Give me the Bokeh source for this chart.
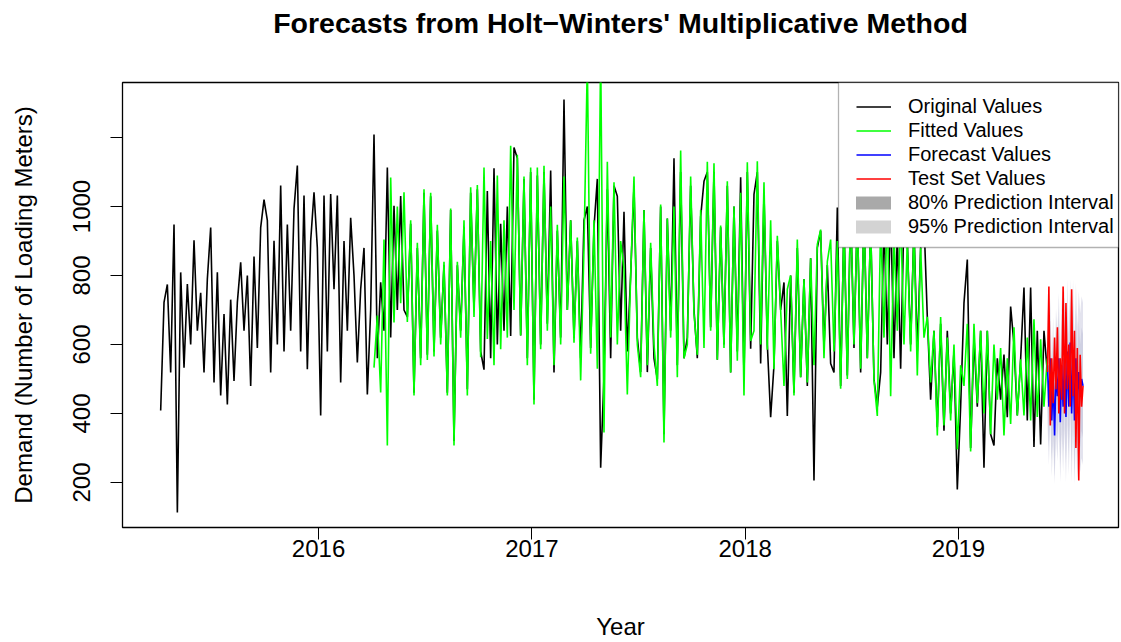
import numpy as np
from bokeh.plotting import figure
from bokeh.models import Range1d, FixedTicker, Legend, LegendItem, BoxAnnotation, Title
from bokeh.embed import file_html
from bokeh.resources import INLINE

# ---------------- data ----------------
series_start = 2015.26      # time of first observation (years)
series_freq = 64            # observations per year in this transcription
fitted_offset = 64          # fitted values start one season after the data
test_start = 2019.417
test_freq = 150

original_values = [
    409, 722, 774, 519, 948, 113, 809, 533, 775, 600,
    902, 640, 750, 519, 790, 939, 490, 809, 452, 688,
    426, 730, 494, 722, 838, 640, 800, 480, 855, 590,
    939, 1020, 960, 519, 901, 600, 1061, 580, 948, 640,
    993, 1119, 580, 1032, 528, 900, 1041, 880, 394, 1032,
    580, 1036, 760, 1032, 490, 900, 640, 967, 800, 548,
    760, 880, 455, 700,
    1209, 560, 780, 640, 1113, 620, 1002, 700, 1030, 700,
    680, 950, 460, 880, 560, 1040, 570, 1030, 580, 930,
    620, 830, 460, 990, 320, 830, 640, 940, 470, 1040,
    700, 1050, 580, 527, 1045, 560, 1111, 600, 950, 640,
    1000, 625, 1171, 1140, 626, 1080, 560, 1100, 440, 1090,
    600, 1100, 660, 1104, 519, 930, 620, 1310, 700, 960,
    620, 900, 560, 960, 1000, 590, 940, 1080, 243, 508,
    1050, 560, 1060, 1030, 640, 985, 580, 800, 1060, 620,
    520, 990, 520, 880, 560, 500, 1000, 340, 965, 640,
    1140, 540, 1100, 560, 620, 1060, 700, 560, 970, 1073,
    1100, 650, 1100, 556, 940, 600, 1060, 519, 1000, 580,
    1085, 505, 1100, 588, 1035, 1100, 545, 1040, 600, 389,
    540, 900, 700, 780, 393, 800, 460, 880, 505, 790,
    480, 850, 206, 880, 930, 590, 830, 545, 519, 997,
    480, 960, 510, 1000, 590, 980, 519, 990, 560, 950,
    500, 420, 519, 960, 600, 1000, 560, 920, 530, 980,
    900, 600, 940, 580, 880, 960, 680, 440, 640, 360,
    660, 350, 640, 400, 580, 180, 420, 720, 846, 300,
    620, 420, 640, 243, 640, 340, 307, 560, 440, 571,
    389, 710, 600, 394, 557, 765, 380, 765, 303, 640,
    310, 640, 520,
]

fitted_values = [
    533, 684, 461, 904, 307, 1084, 664, 1000, 720, 1041,
    665, 960, 452, 895, 540, 1050, 555, 1040, 565, 947,
    600, 840, 452, 994, 307, 840, 620, 960, 452, 1056,
    680, 1062, 563, 1113, 616, 900, 540, 1090, 586, 960,
    620, 1176, 700, 1150, 626, 1087, 540, 1113, 426, 1113,
    586, 1118, 640, 1000, 540, 947, 600, 1087, 700, 960,
    605, 910, 496, 880, 1420, 573, 960, 530, 1450, 345,
    1130, 620, 1070, 600, 900, 820, 455, 800, 1087, 600,
    505, 990, 540, 895, 600, 480, 1006, 316, 965, 620,
    1000, 505, 1162, 560, 600, 1087, 690, 570, 990, 590,
    1130, 640, 1125, 556, 945, 590, 1073, 519, 1000, 553,
    1040, 452, 1128, 610, 640, 1131, 600, 1070, 585, 960,
    528, 915, 700, 480, 760, 800, 452, 904, 505, 790,
    490, 850, 540, 890, 933, 560, 840, 904, 580, 900,
    472, 960, 500, 1000, 600, 980, 530, 990, 560, 950,
    496, 393, 960, 620, 1000, 450, 920, 640, 980, 600,
    900, 580, 940, 510, 880, 620, 680, 490, 640, 336,
    680, 365, 620, 380, 600, 296, 540, 480, 660, 290,
    660, 430, 640, 400, 640, 340, 600, 440, 590, 336,
    560, 370, 650, 394, 557, 394, 620, 380, 673, 390,
    615, 420, 560,
]

test_values = [
    520, 768, 365, 560, 430, 620, 470, 650, 400, 560,
    440, 768, 400, 720, 470, 600, 420, 760, 450, 640,
    300, 590, 206, 570, 420, 480,
]

forecast_values = [
    540, 420, 560, 380, 500, 336, 520, 450, 560, 375,
    540, 420, 560, 390, 580, 420, 606, 400, 580, 380,
    560, 420, 520, 450, 500, 480,
]

pi80_upper = [
    650, 535, 675, 495, 620, 455, 640, 575, 685, 500,
    670, 550, 690, 525, 715, 555, 745, 540, 720, 525,
    705, 565, 670, 600, 650, 630,
]
pi80_lower = [
    430, 305, 445, 265, 380, 217, 400, 325, 435, 250,
    410, 290, 430, 255, 445, 285, 467, 260, 440, 235,
    415, 275, 370, 300, 350, 330,
]
pi95_upper = [
    710, 595, 735, 555, 680, 520, 705, 640, 750, 570,
    740, 620, 765, 595, 790, 630, 790, 620, 790, 605,
    780, 650, 755, 690, 740, 720,
]
pi95_lower = [
    370, 250, 385, 215, 320, 195, 335, 260, 370, 200,
    340, 230, 355, 200, 370, 220, 392, 200, 360, 195,
    330, 210, 285, 230, 270, 250,
]

year_ticks = [2016, 2017, 2018, 2019]
demand_ticks = [200, 400, 600, 800, 1000, 1200]

# ---------------- time axes ----------------
t_orig = series_start + np.arange(len(original_values)) / series_freq
t_fit = series_start + (fitted_offset + np.arange(len(fitted_values))) / series_freq
t_test = test_start + np.arange(len(test_values)) / test_freq

FONT = "Liberation Sans"
X0, X1 = 2015.081, 2019.75
Y0, Y1 = 69.6, 1359.4
FRAME_W, FRAME_H = 996, 445
px_x = (X1 - X0) / FRAME_W
px_y = (Y1 - Y0) / FRAME_H

p = figure(
    width=1121, height=642, output_backend="svg", toolbar_location=None,
    title=None,
    x_range=Range1d(X0, X1), y_range=Range1d(Y0, Y1),
    min_border_left=122, min_border_right=3, min_border_top=82, min_border_bottom=115,
    background_fill_color="white", border_fill_color="white",
)

# spacer panel next to the frame, then the real title above it
spacer = Title(text=" ", text_font_size="1px", standoff=41)
p.add_layout(spacer, "above")
main_title = Title(
    text="Forecasts from Holt\u2212Winters' Multiplicative Method",
    align="center", standoff=0,
    text_font=FONT, text_font_size="28.5px", text_font_style="bold", text_color="black",
)
p.add_layout(main_title, "above")

p.grid.visible = False
p.outline_line_color = "black"
p.outline_line_width = 1.3

# axes
p.xaxis.ticker = FixedTicker(ticks=year_ticks)
p.yaxis.ticker = FixedTicker(ticks=demand_ticks)
p.yaxis.major_label_overrides = {1200: ""}
for ax in (p.xaxis[0], p.yaxis[0]):
    ax.axis_line_color = None
    ax.major_tick_in = 0
    ax.major_tick_out = 12
    ax.minor_tick_line_color = None
    ax.major_tick_line_color = "black"
    ax.major_label_text_font = FONT
    ax.major_label_text_font_size = "24px"
    ax.major_label_text_color = "black"
    ax.axis_label_text_font = FONT
    ax.axis_label_text_font_size = "24px"
    ax.axis_label_text_font_style = "normal"
    ax.axis_label_text_color = "black"

p.xaxis.axis_label = "Year"
p.xaxis.major_label_standoff = 0
p.xaxis.axis_label_standoff = 53
p.yaxis.axis_label = "Demand (Number of Loading Meters)"
p.yaxis.major_label_orientation = "vertical"
p.yaxis.major_label_standoff = 20
p.yaxis.axis_label_standoff = 34

LW = 1.6
r_orig = p.line(t_orig, original_values, line_color="black", line_width=LW)
r_fit = p.line(t_fit, fitted_values, line_color="#00ff00", line_width=LW)
p.varea(x=t_test, y1=pi95_lower, y2=pi95_upper, fill_color="#e3e3ee", fill_alpha=1.0)
p.varea(x=t_test, y1=pi80_lower, y2=pi80_upper, fill_color="#cfd0e2", fill_alpha=1.0)
r_fc = p.line(t_test, forecast_values, line_color="#0000ff", line_width=LW)
r_test = p.line(t_test, test_values, line_color="#ff0000", line_width=LW)

# legend-only swatches for the prediction intervals (no visible data)
r_80 = p.line(x=[np.nan, np.nan], y=[np.nan, np.nan], line_color="#a9a9a9",
              line_width=13, line_cap="round")
r_95 = p.line(x=[np.nan, np.nan], y=[np.nan, np.nan], line_color="#d3d3d3",
              line_width=13, line_cap="round")

# legend frame (white box with border) spanning 280 x 165 px at the top-right corner
legend_box = BoxAnnotation(
    left=X1 - 280 * px_x, right=X1, bottom=Y1 - 165 * px_y, top=Y1,
    fill_color="white", fill_alpha=1.0, line_color="black", line_width=1.3,
)
p.add_layout(legend_box)

legend = Legend(
    items=[
        LegendItem(label="Original Values", renderers=[r_orig]),
        LegendItem(label="Fitted Values", renderers=[r_fit]),
        LegendItem(label="Forecast Values", renderers=[r_fc]),
        LegendItem(label="Test Set Values", renderers=[r_test]),
        LegendItem(label="80% Prediction Interval", renderers=[r_80]),
        LegendItem(label="95% Prediction Interval", renderers=[r_95]),
    ],
    location=(734, 289), margin=0, padding=3, spacing=1,
    glyph_width=35, glyph_height=23, label_height=23, label_standoff=17,
    label_text_font=FONT, label_text_font_size="20px", label_text_color="black",
    border_line_color=None, background_fill_alpha=0.0,
)
p.add_layout(legend)

open("out.html", "w").write(file_html(p, INLINE))
